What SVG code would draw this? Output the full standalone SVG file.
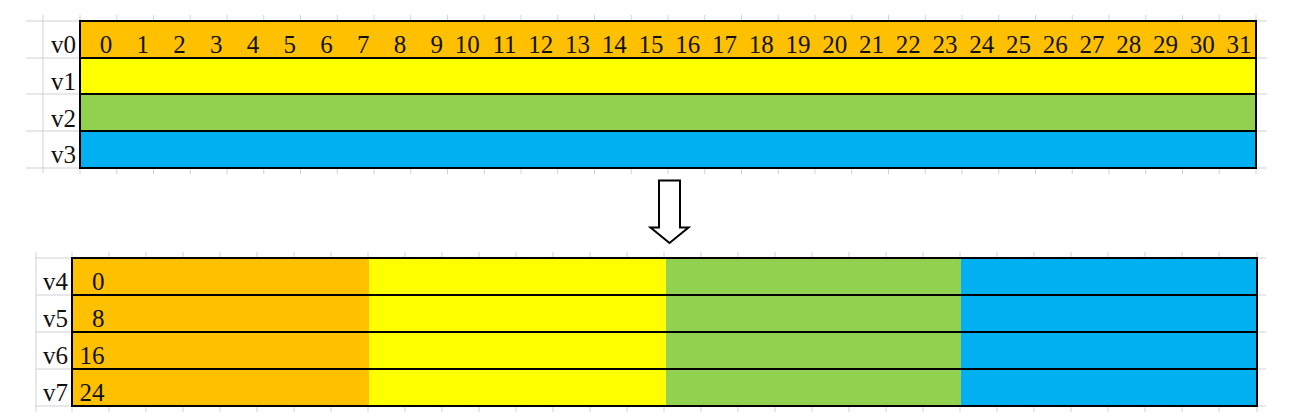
<svg xmlns="http://www.w3.org/2000/svg" width="1292" height="417" viewBox="0 0 1292 417">
<defs>
<style>
.grid{stroke:#cdd1d9;stroke-width:1;fill:none}
.bd{stroke:#000;stroke-width:2;fill:none}
.t{font-family:"Liberation Serif","Times New Roman",serif;font-size:25px;fill:#111}
.e{text-anchor:end}
.or{fill:#FFC000}.ye{fill:#FFFF00}.gr{fill:#92D050}.bl{fill:#00B0F0}
</style>
</defs>
<rect width="1292" height="417" fill="#fff"/>
<g id="grid-lines">
<path class="grid" d="M43 15V173M26 21H80M26 58H80M26 94H80M26 131H80M26 168H80M1256 21H1267M1256 58H1267M1256 94H1267M1256 131H1267M1256 168H1267"/>
<path class="grid" d="M80 15V21M116.75 15V21M153.5 15V21M190.25 15V21M227 15V21M263.75 15V21M300.5 15V21M337.25 15V21M374 15V21M410.75 15V21M447.5 15V21M484.25 15V21M521 15V21M557.75 15V21M594.5 15V21M631.25 15V21M668 15V21M704.75 15V21M741.5 15V21M778.25 15V21M815 15V21M851.75 15V21M888.5 15V21M925.25 15V21M962 15V21M998.75 15V21M1035.5 15V21M1072.25 15V21M1109 15V21M1145.75 15V21M1182.5 15V21M1219.25 15V21M1256 15V21"/>
<path class="grid" d="M80 168V174M116.75 168V174M153.5 168V174M190.25 168V174M227 168V174M263.75 168V174M300.5 168V174M337.25 168V174M374 168V174M410.75 168V174M447.5 168V174M484.25 168V174M521 168V174M557.75 168V174M594.5 168V174M631.25 168V174M668 168V174M704.75 168V174M741.5 168V174M778.25 168V174M815 168V174M851.75 168V174M888.5 168V174M925.25 168V174M962 168V174M998.75 168V174M1035.5 168V174M1072.25 168V174M1109 168V174M1145.75 168V174M1182.5 168V174M1219.25 168V174M1256 168V174"/>
<path class="grid" d="M36 252V412M36 258H72M36 295H72M36 332H72M36 369H72M36 406H72M1257 258H1266M1257 295H1266M1257 332H1266M1257 369H1266M1257 406H1266"/>
<path class="grid" d="M72 252V258M109 252V258M146 252V258M183 252V258M220 252V258M257 252V258M294 252V258M331 252V258M368 252V258M405 252V258M442 252V258M479 252V258M516 252V258M553 252V258M590 252V258M627 252V258M664 252V258M701 252V258M738 252V258M775 252V258M812 252V258M849 252V258M886 252V258M923 252V258M960 252V258M997 252V258M1034 252V258M1071 252V258M1108 252V258M1145 252V258M1182 252V258M1219 252V258M1257 252V258"/>
<path class="grid" d="M72 406V412M109 406V412M146 406V412M183 406V412M220 406V412M257 406V412M294 406V412M331 406V412M368 406V412M405 406V412M442 406V412M479 406V412M516 406V412M553 406V412M590 406V412M627 406V412M664 406V412M701 406V412M738 406V412M775 406V412M812 406V412M849 406V412M886 406V412M923 406V412M960 406V412M997 406V412M1034 406V412M1071 406V412M1108 406V412M1145 406V412M1182 406V412M1219 406V412M1257 406V412"/>
</g>
<g id="top-table">
<g id="v0">
<rect class="or" x="80" y="21" width="1176" height="37"/>
<text class="t e" x="76" y="53">v0</text>
<g class="t e">
<text x="112.25" y="53">0</text><text x="149" y="53">1</text><text x="185.75" y="53">2</text><text x="222.5" y="53">3</text><text x="259.25" y="53">4</text><text x="296" y="53">5</text><text x="332.75" y="53">6</text><text x="369.5" y="53">7</text><text x="406.25" y="53">8</text><text x="443" y="53">9</text><text x="479.75" y="53">10</text><text x="516.5" y="53">11</text><text x="553.25" y="53">12</text><text x="590" y="53">13</text><text x="626.75" y="53">14</text><text x="663.5" y="53">15</text><text x="700.25" y="53">16</text><text x="737" y="53">17</text><text x="773.75" y="53">18</text><text x="810.5" y="53">19</text><text x="847.25" y="53">20</text><text x="884" y="53">21</text><text x="920.75" y="53">22</text><text x="957.5" y="53">23</text><text x="994.25" y="53">24</text><text x="1031" y="53">25</text><text x="1067.75" y="53">26</text><text x="1104.5" y="53">27</text><text x="1141.25" y="53">28</text><text x="1178" y="53">29</text><text x="1214.75" y="53">30</text><text x="1251.5" y="53">31</text>
</g>
</g>
<g id="v1"><rect class="ye" x="80" y="58" width="1176" height="36"/><text class="t e" x="76" y="90">v1</text></g>
<g id="v2"><rect class="gr" x="80" y="94" width="1176" height="37"/><text class="t e" x="76" y="127">v2</text></g>
<g id="v3"><rect class="bl" x="80" y="131" width="1176" height="37"/><text class="t e" x="76" y="163">v3</text></g>
<path class="bd" d="M80 21H1256V168H80ZM80 58H1256M80 94H1256M80 131H1256"/>
</g>
<g id="connectors">
<path d="M659 180.5H680V227.5H688.5L669.5 243L650.5 227.5H659Z" fill="#fff" stroke="#000" stroke-width="2" stroke-linejoin="miter"/>
</g>
<g id="bottom-table">
<rect class="or" x="72" y="258" width="297" height="148"/>
<rect class="ye" x="369" y="258" width="297" height="148"/>
<rect class="gr" x="666" y="258" width="295" height="148"/>
<rect class="bl" x="961" y="258" width="296" height="148"/>
<g id="v4"><text class="t e" x="68" y="290">v4</text><text class="t e" x="104.5" y="290">0</text></g>
<g id="v5"><text class="t e" x="68" y="327">v5</text><text class="t e" x="104.5" y="327">8</text></g>
<g id="v6"><text class="t e" x="68" y="364">v6</text><text class="t e" x="104.5" y="364">16</text></g>
<g id="v7"><text class="t e" x="68" y="401">v7</text><text class="t e" x="104.5" y="401">24</text></g>
<path class="bd" d="M72 258H1257V406H72ZM72 295H1257M72 332H1257M72 369H1257"/>
</g>
</svg>
